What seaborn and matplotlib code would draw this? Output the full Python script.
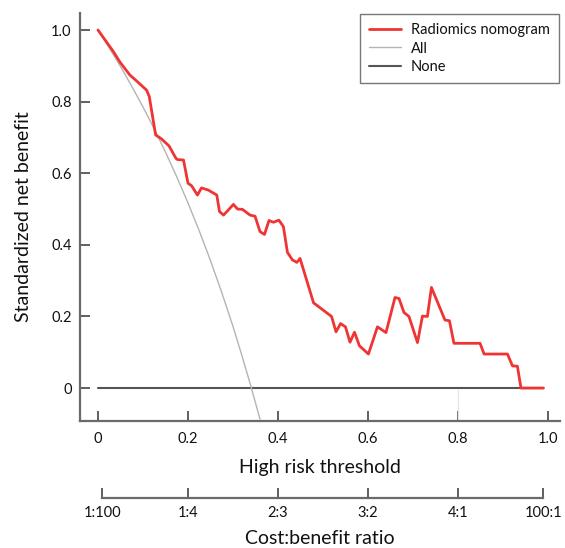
import matplotlib
matplotlib.use("Agg")
import matplotlib.pyplot as plt
import seaborn as sns
import pandas as pd

# ---- data ----
model_x = [0, 0.034, 0.049, 0.071, 0.082, 0.108, 0.114, 0.128, 0.141, 0.158,
           0.173, 0.177, 0.19, 0.2, 0.208, 0.221, 0.23, 0.245, 0.26, 0.264,
           0.27, 0.279, 0.293, 0.301, 0.31, 0.321, 0.338, 0.349, 0.36, 0.37,
           0.38, 0.39, 0.402, 0.412, 0.421, 0.432, 0.442, 0.449, 0.479, 0.519,
           0.529, 0.539, 0.55, 0.56, 0.57, 0.581, 0.601, 0.621, 0.64, 0.66,
           0.669, 0.68, 0.691, 0.71, 0.721, 0.732, 0.741, 0.771, 0.781, 0.791,
           0.849, 0.858, 0.91, 0.921, 0.932, 0.94, 0.99]
model_y = [1.0, 0.94, 0.91, 0.874, 0.862, 0.832, 0.814, 0.707, 0.696, 0.676,
           0.642, 0.638, 0.637, 0.572, 0.565, 0.539, 0.559, 0.553, 0.542, 0.539,
           0.493, 0.483, 0.502, 0.513, 0.5, 0.499, 0.483, 0.48, 0.437, 0.429,
           0.468, 0.463, 0.469, 0.451, 0.379, 0.358, 0.351, 0.362, 0.238, 0.2,
           0.157, 0.18, 0.171, 0.128, 0.156, 0.118, 0.095, 0.171, 0.155, 0.253,
           0.25, 0.211, 0.2, 0.127, 0.201, 0.2, 0.281, 0.19, 0.188, 0.125,
           0.125, 0.095, 0.095, 0.062, 0.061, 0.0, 0.0]

all_x = [0, 0.025, 0.05, 0.075, 0.1, 0.125, 0.15, 0.175, 0.2, 0.225, 0.25,
         0.275, 0.3, 0.32, 0.34, 0.36]
all_y = [1.0, 0.950, 0.898, 0.843, 0.785, 0.724, 0.659, 0.590, 0.517, 0.439,
         0.356, 0.267, 0.172, 0.090, 0.004, -0.087]

none_x = [0, 0.99]
none_y = [0, 0]

x_ticks = [0, 0.2, 0.4, 0.6, 0.8, 1.0]
x_tick_labels = ["0", "0.2", "0.4", "0.6", "0.8", "1.0"]
y_ticks = [0, 0.2, 0.4, 0.6, 0.8, 1.0]
y_tick_labels = ["0", "0.2", "0.4", "0.6", "0.8", "1.0"]
cb_ticks = [0.0099, 0.2, 0.4, 0.6, 0.8, 0.990]
cb_labels = ["1:100", "1:4", "2:3", "3:2", "4:1", "100:1"]

sns.set_style("white")
plt.rcParams['font.family'] = ['Lato', 'DejaVu Sans']

RED = "#f03434"
GRAY = "#b4b4b4"
DARK = "#555555"
SPINE = "#6a6a6a"

W, H = 565, 548
fig = plt.figure(figsize=(W / 100, H / 100), dpi=100)

# main axes: pixel left 80, right 560, top 13, bottom 421
ax = fig.add_axes([80 / W, 1 - 421 / H, 480 / W, 408 / H])

df_model = pd.DataFrame({"x": model_x, "y": model_y})
df_all = pd.DataFrame({"x": all_x, "y": all_y})
df_none = pd.DataFrame({"x": none_x, "y": none_y})

sns.lineplot(data=df_none, x="x", y="y", ax=ax, color=DARK, lw=1.5,
             estimator=None, sort=False, label="None", zorder=2)
sns.lineplot(data=df_all, x="x", y="y", ax=ax, color=GRAY, lw=1.0,
             estimator=None, sort=False, label="All", zorder=3)
sns.lineplot(data=df_model, x="x", y="y", ax=ax, color=RED, lw=2.0,
             estimator=None, sort=False, label="Radiomics nomogram", zorder=4)
# faint vertical artifact at 0.8
ax.plot([0.8, 0.8], [-0.092, -0.005], color="#e6e6e6", lw=1.0, zorder=1)

ax.set_xlim(-0.04, 1.0267)
ax.set_ylim(-0.092, 1.0475)
ax.set_xticks(x_ticks)
ax.set_xticklabels(x_tick_labels)
ax.set_yticks(y_ticks)
ax.set_yticklabels(y_tick_labels)
ax.tick_params(axis="both", direction="in", length=7, width=1.2, color="#444444",
               labelsize=10.5, labelcolor="#111111", bottom=True, left=True)
ax.tick_params(axis="x", pad=8)
ax.tick_params(axis="y", pad=6)
for s in ["top", "right"]:
    ax.spines[s].set_visible(False)
for s in ["left", "bottom"]:
    ax.spines[s].set_color(SPINE)
    ax.spines[s].set_linewidth(1.6)

ax.set_xlabel("High risk threshold", fontsize=14, labelpad=9, color="#111111")
ax.set_ylabel("Standardized net benefit", fontsize=14, labelpad=14, color="#111111")

handles, labels = ax.get_legend_handles_labels()
order = [labels.index("Radiomics nomogram"), labels.index("All"), labels.index("None")]
leg = ax.legend([handles[i] for i in order], [labels[i] for i in order],
                loc="upper right", bbox_to_anchor=(1.0, 1.0), frameon=True,
                fancybox=False, edgecolor="#555555", fontsize=10.5,
                handlelength=2.2, handletextpad=0.7, borderpad=0.6,
                labelspacing=0.3, borderaxespad=0.1)
leg.get_frame().set_linewidth(1.0)
for t in leg.get_texts():
    t.set_color("#111111")

# cost:benefit axis
ax2 = fig.add_axes([80 / W, 1 - 498 / H, 480 / W, 0.0001])
ax2.set_xlim(-0.04, 1.0267)
ax2.set_ylim(0, 1)
ax2.set_yticks([])
for s in ["top", "right", "left"]:
    ax2.spines[s].set_visible(False)
ax2.spines["bottom"].set_color(SPINE)
ax2.spines["bottom"].set_linewidth(1.6)
ax2.spines["bottom"].set_bounds(cb_ticks[0], cb_ticks[-1])
ax2.set_xticks(cb_ticks)
ax2.set_xticklabels(cb_labels)
ax2.tick_params(axis="x", direction="in", length=7, width=1.2, color="#444444",
                labelsize=10.5, labelcolor="#111111", pad=6, bottom=True)
ax2.set_xlabel("Cost:benefit ratio", fontsize=14, labelpad=7, color="#111111")
ax2.patch.set_alpha(0)

fig.savefig("out.png", dpi=100)
